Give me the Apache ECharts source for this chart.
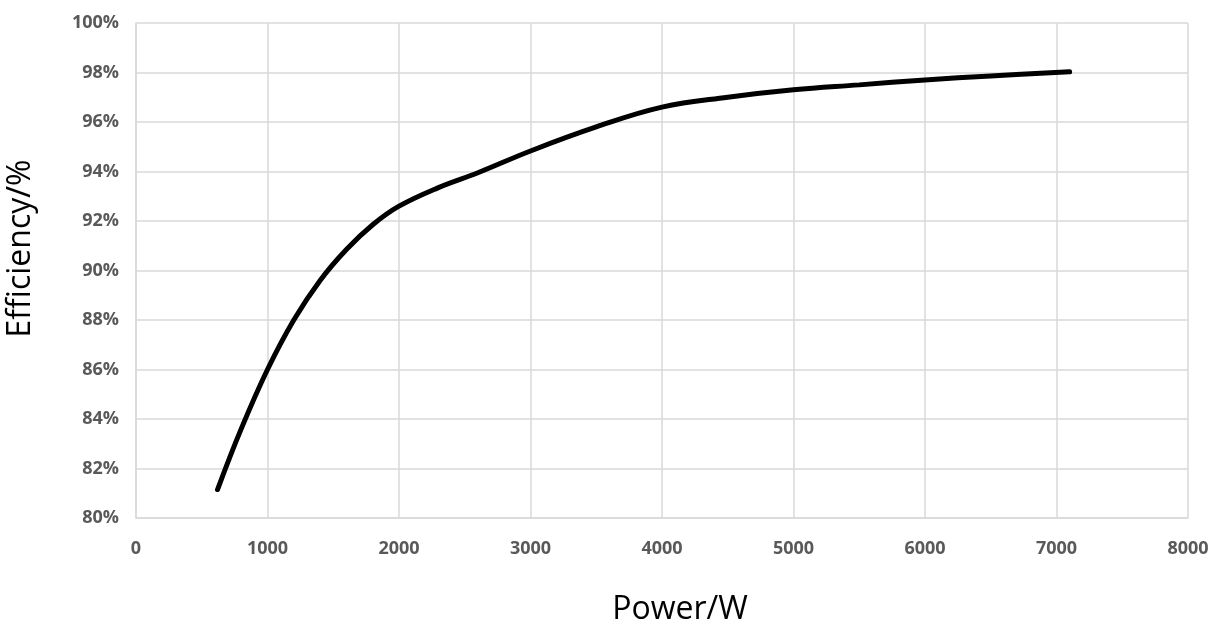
<!DOCTYPE html>
<html>
<head>
<meta charset="utf-8">
<script src="https://cdn.jsdelivr.net/npm/echarts@6/dist/echarts.min.js"></script>
<style>
html, body { margin: 0; padding: 0; background: #fff; }
#chart { width: 1221px; height: 634px; }
</style>
</head>
<body>
<div id="chart"></div>
<script>
// power in W, efficiency in %
var power = [620, 800, 1000, 1200, 1400, 1600, 1800, 2000, 2300, 2600, 3000, 3500, 4000, 4500, 5000, 5500, 6000, 6500, 7100];
var efficiency = [81.15, 83.6, 86.0, 88.0, 89.6, 90.85, 91.85, 92.6, 93.35, 93.95, 94.83, 95.8, 96.6, 97.0, 97.3, 97.5, 97.7, 97.86, 98.03];

var points = power.map(function (p, i) { return [p, efficiency[i]]; });

var labelStyle = {
    color: '#595959',
    fontFamily: 'Open Sans',
    fontWeight: 'bold',
    fontSize: 18
};

var chart = echarts.init(document.getElementById('chart'));
chart.setOption({
    animation: false,
    grid: { left: 136, right: 33, top: 23, bottom: 116, outerBoundsMode: 'none' },
    xAxis: {
        type: 'value',
        min: 0, max: 8000, interval: 1000,
        name: 'Power/W',
        nameLocation: 'middle',
        nameGap: 76,
        nameTextStyle: { fontFamily: 'Open Sans', fontSize: 32, color: '#000', padding: [0, 0, 0, 36] },
        axisLine: { show: true, lineStyle: { color: '#d9d9d9', width: 1.5 } },
        axisTick: { show: false },
        axisLabel: Object.assign({ margin: 22, formatter: function (v) { return String(v); } }, labelStyle),
        splitLine: { show: true, lineStyle: { color: '#d9d9d9', width: 1.5 } }
    },
    yAxis: {
        type: 'value',
        min: 80, max: 100, interval: 2,
        name: 'Efficiency/%',
        nameLocation: 'middle',
        nameGap: 99,
        nameTextStyle: { fontFamily: 'Open Sans', fontSize: 32, color: '#000', padding: [0, 0, 0, 44] },
        axisLine: { show: true, lineStyle: { color: '#d9d9d9', width: 1.5 } },
        axisTick: { show: false },
        axisLabel: Object.assign({ margin: 17, formatter: '{value}%' }, labelStyle),
        splitLine: { show: true, lineStyle: { color: '#d9d9d9', width: 1.5 } }
    },
    series: [{
        type: 'line',
        data: points,
        smooth: 0.4,
        showSymbol: false,
        lineStyle: { color: '#000', width: 5, cap: 'round' }
    }]
});
</script>
</body>
</html>
